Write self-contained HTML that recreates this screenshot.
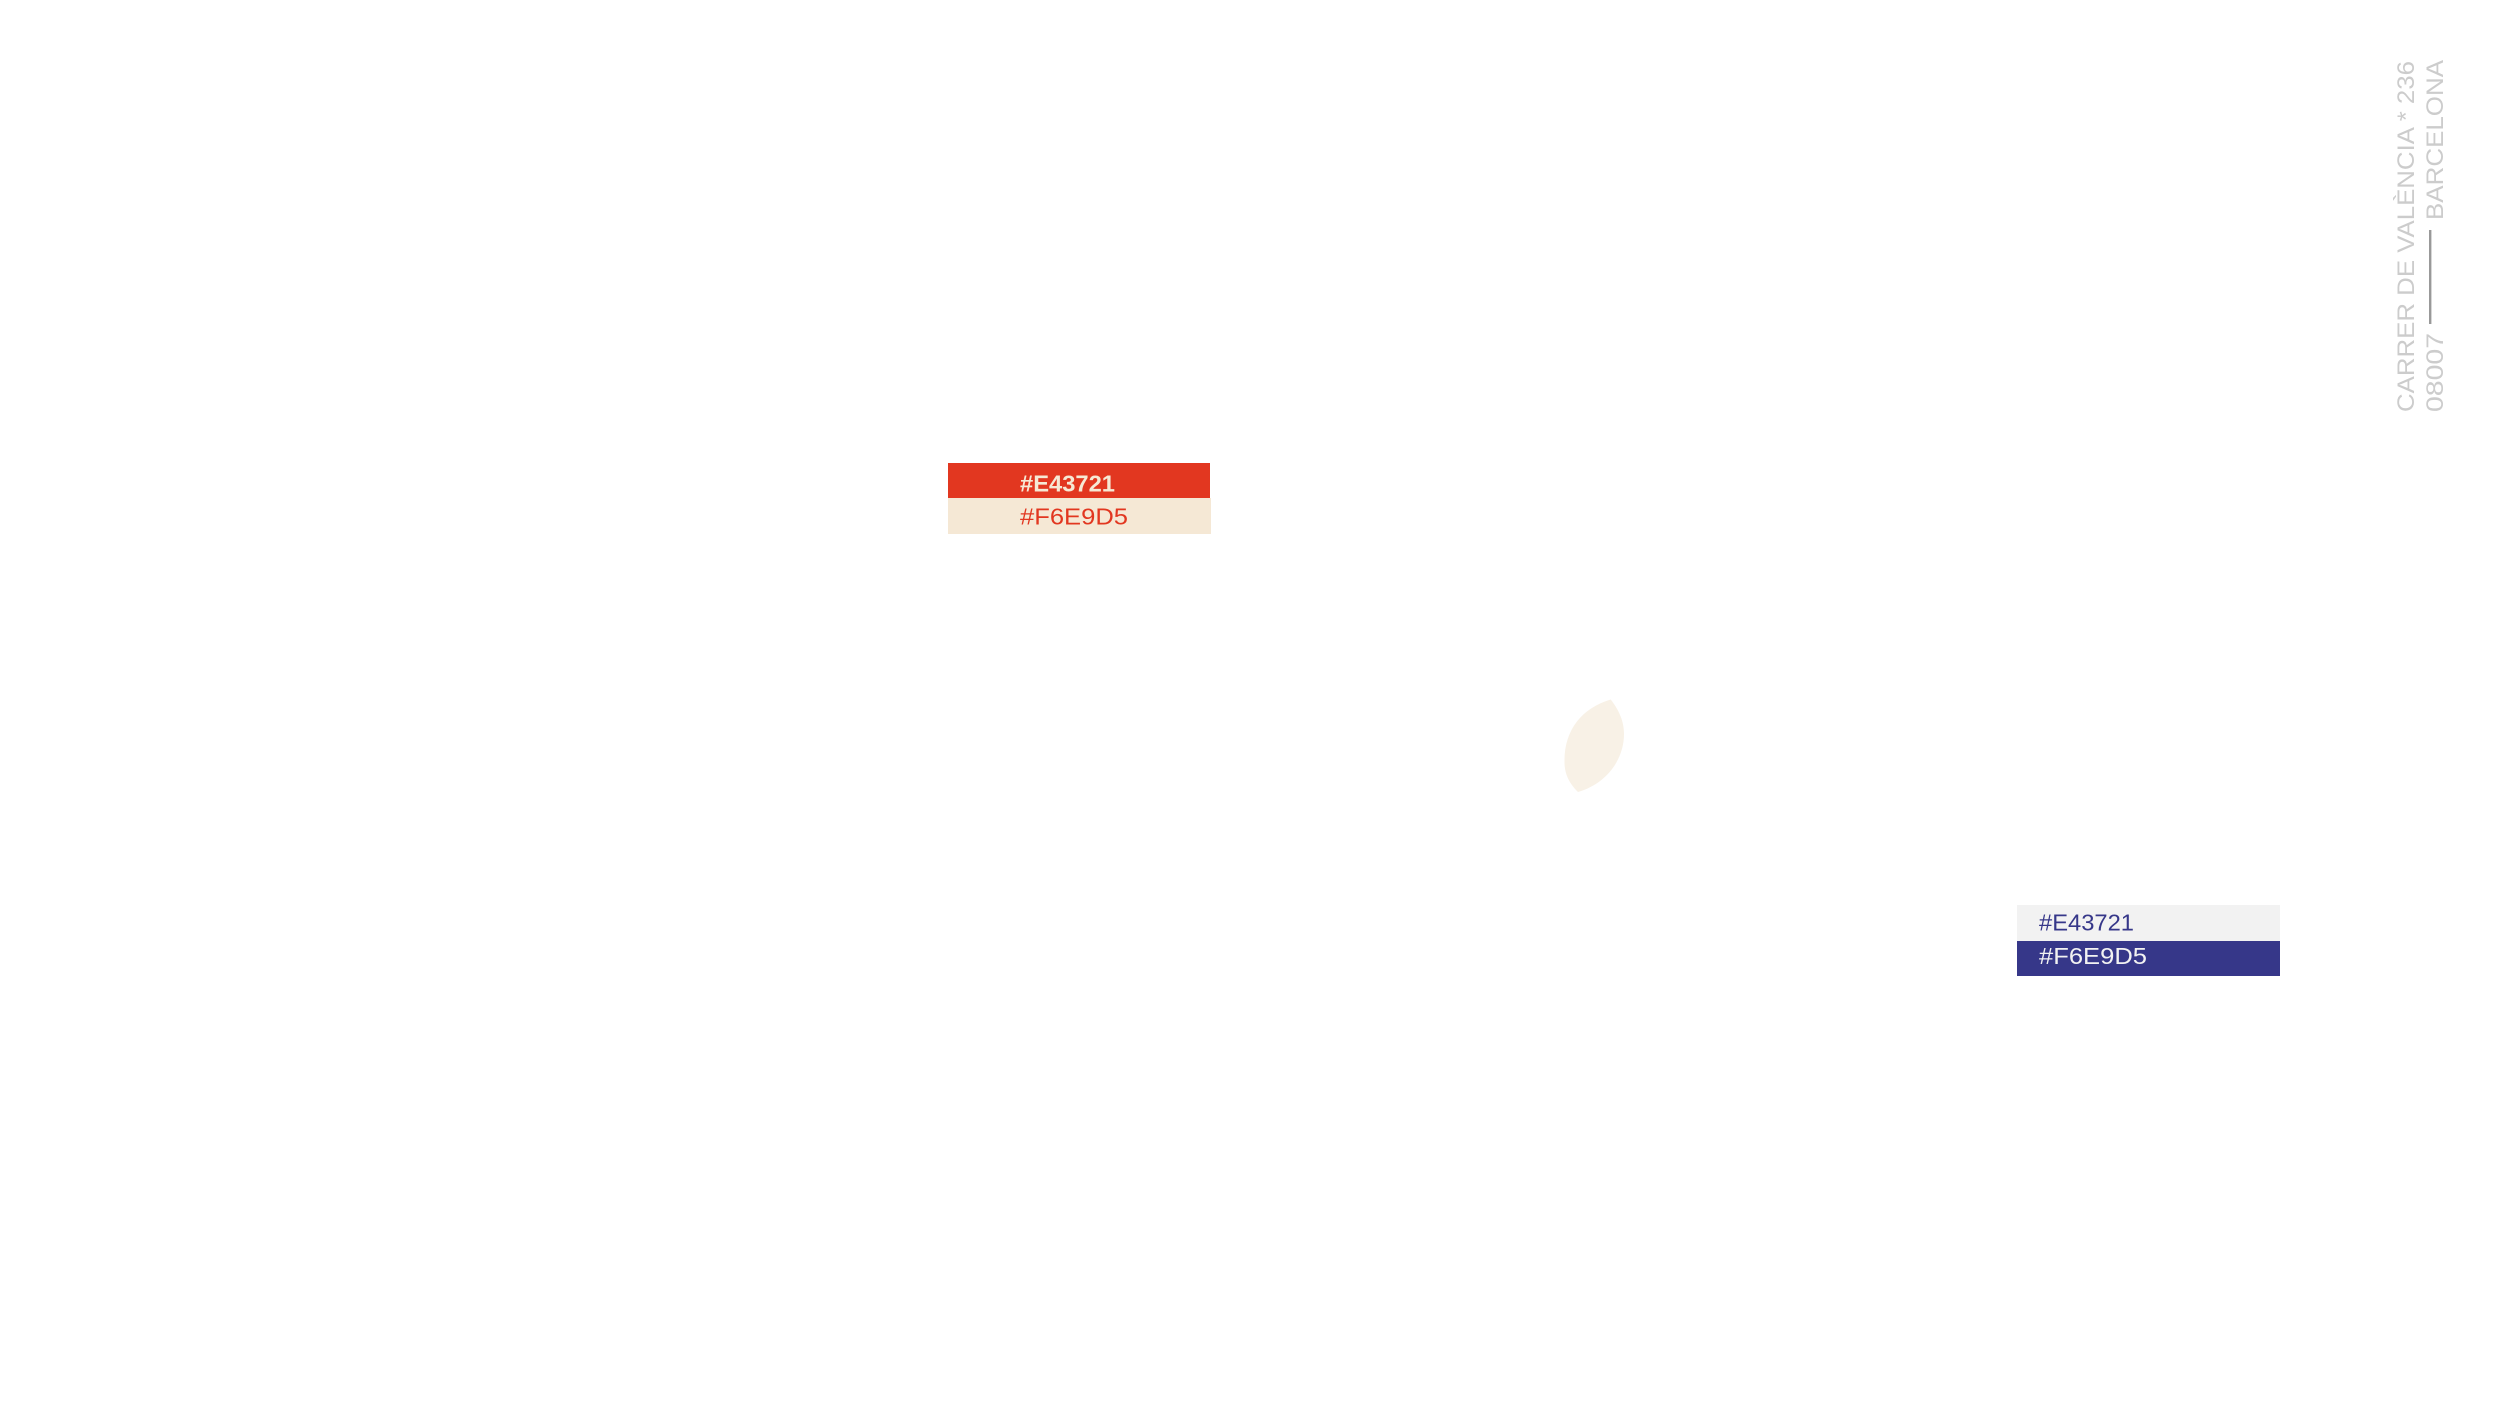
<!DOCTYPE html>
<html lang="en">
<head>
<meta charset="utf-8">
<title>Palette</title>
<style>
html,body{margin:0;padding:0;background:#fff;width:2500px;height:1406px;overflow:hidden}
svg{display:block}
text{font-family:"Liberation Sans",sans-serif}
</style>
</head>
<body>
<svg width="2500" height="1406" viewBox="0 0 2500 1406" xmlns="http://www.w3.org/2000/svg">
<rect width="2500" height="1406" fill="#fff"/>
<rect x="948" y="463" width="262" height="35" fill="#E23720"/>
<rect x="948" y="498" width="263" height="36" fill="#F5E8D5"/>
<text x="1020" y="491.5" font-size="23" font-weight="700" fill="#F6E9D5" textLength="95" lengthAdjust="spacingAndGlyphs">#E43721</text>
<text x="1020" y="524.5" font-size="23" fill="#E23720" textLength="108" lengthAdjust="spacingAndGlyphs">#F6E9D5</text>
<rect x="2017" y="905" width="263" height="36" fill="#F2F2F2"/>
<rect x="2017" y="941" width="263" height="35" fill="#363789"/>
<text x="2039" y="930.5" font-size="23" fill="#363789" textLength="95" lengthAdjust="spacingAndGlyphs">#E43721</text>
<text x="2039" y="964" font-size="23" fill="#F2F2F2" textLength="108" lengthAdjust="spacingAndGlyphs">#F6E9D5</text>
<path d="M1610.7 699.5 C1582 708 1564 730 1564.5 762 C1564.5 775 1570 784 1578 792 C1606 784 1624 760 1624 734 C1624 720 1618 709 1610.7 699.5 Z" fill="#F8F1E6"/>
<text transform="translate(2414 412) rotate(-90)" font-size="24" fill="#CCCCCC" textLength="351" lengthAdjust="spacingAndGlyphs">CARRER DE VALÈNCIA * 236</text>
<text transform="translate(2443 412) rotate(-90)" font-size="24" fill="#CCCCCC" textLength="79" lengthAdjust="spacingAndGlyphs">08007</text>
<rect x="2429" y="230" width="2.4" height="94" fill="#999999"/>
<text transform="translate(2443 220) rotate(-90)" font-size="24" fill="#CCCCCC" textLength="160" lengthAdjust="spacingAndGlyphs">BARCELONA</text>
</svg>
</body>
</html>
